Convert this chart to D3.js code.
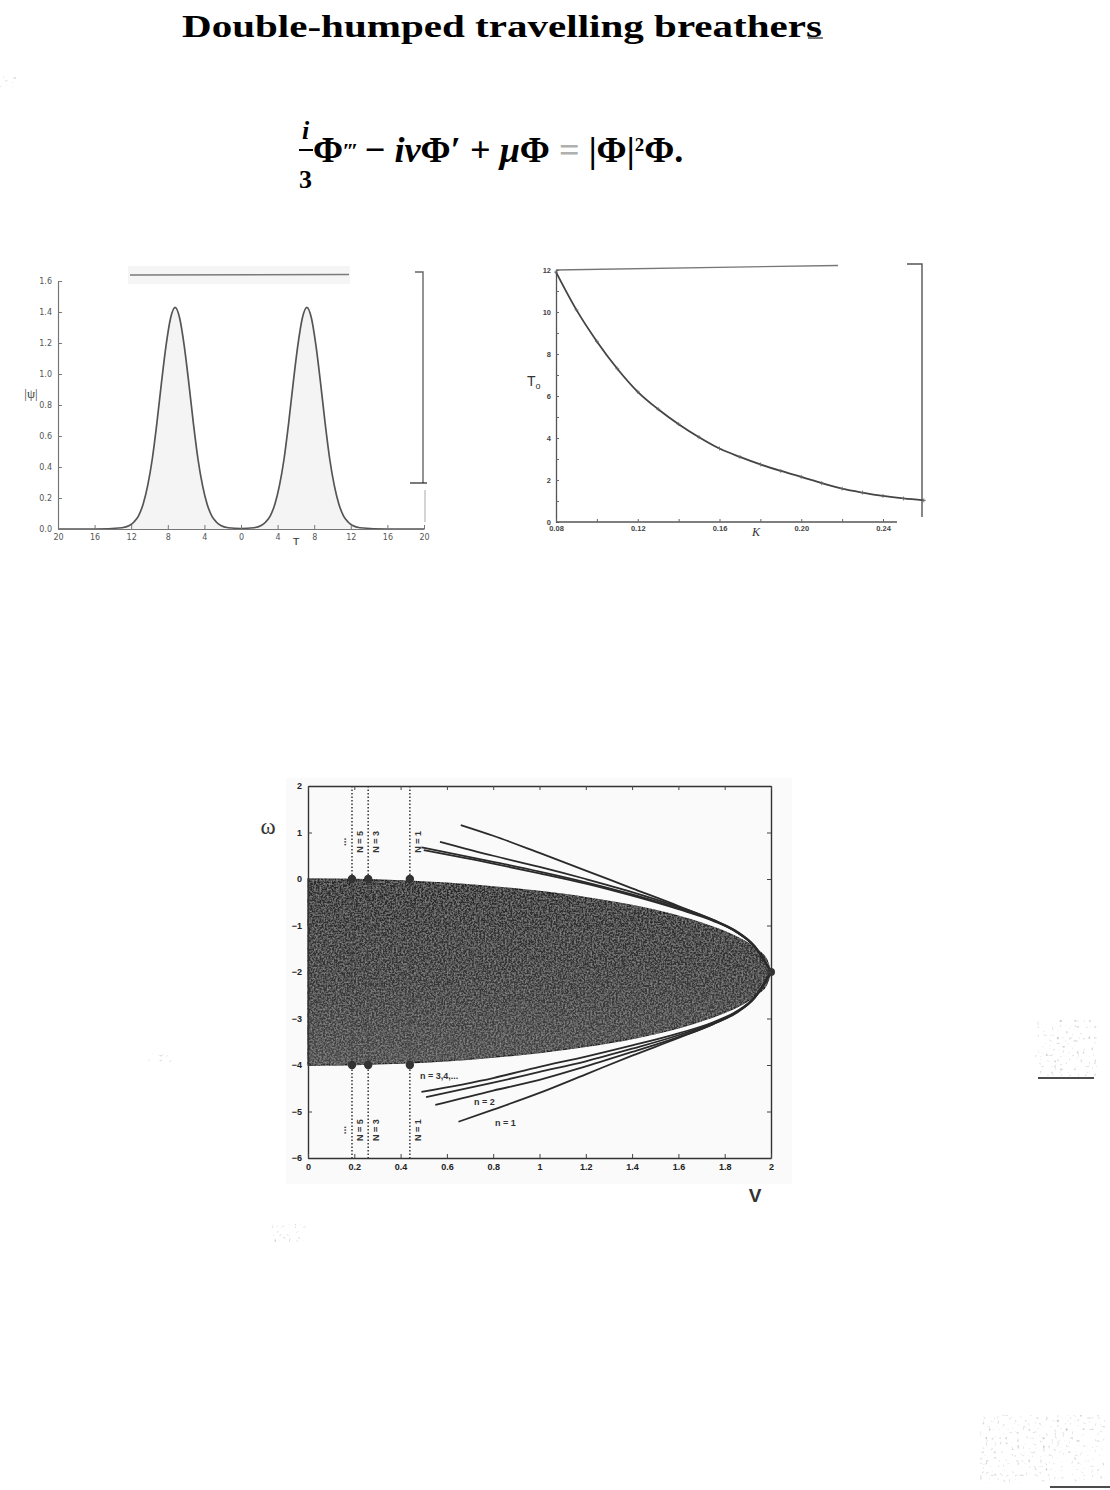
<!DOCTYPE html>
<meta charset="utf-8">
<style>
  body { margin: 0; background: #fff; }
  svg { display: block; }
</style>
<svg width="1110" height="1490" font-family="Liberation Sans, Arial, sans-serif"></svg>
<script src="https://d3js.org/d3.v7.min.js"></script>
<script>

// left panel: |psi| against T (two humps)
var tValues = [-20,-16,-13,-12.2,-11.7,-11.2,-10.7,-10.2,-9.7,-9.2,-8.7,-8.2,-7.7,-7.2,-6.7,-6.2,-5.7,-5.2,-4.7,-4.2,-3.7,-3.2,-2.7,-2.2,-1.4,0,
               1.4,2.2,2.7,3.2,3.7,4.2,4.7,5.2,5.7,6.2,6.7,7.2,7.7,8.2,8.7,9.2,9.7,10.2,10.7,11.2,11.7,12.2,13,16,20];
var psiValues = [0,0,0.008,0.022,0.045,0.085,0.16,0.28,0.45,0.68,0.94,1.18,1.36,1.43,1.36,1.18,0.94,0.68,0.45,0.28,0.16,0.085,0.045,0.022,0.008,0.003,
                 0.008,0.022,0.045,0.085,0.16,0.28,0.45,0.68,0.94,1.18,1.36,1.43,1.36,1.18,0.94,0.68,0.45,0.28,0.16,0.085,0.045,0.022,0.008,0,0];
var tTicks = [-20,-16,-12,-8,-4,0,4,8,12,16,20];
var tTickLabels = ["20","16","12","8","4","0","4","8","12","16","20"];
var psiTicks = [0,0.2,0.4,0.6,0.8,1.0,1.2,1.4,1.6];

// right panel: T0 against kappa
var kappaValues = [0.08,0.09,0.10,0.11,0.12,0.13,0.14,0.15,0.16,0.17,0.18,0.19,0.20,0.21,0.22,0.23,0.24,0.25,0.26];
var t0Values = [11.9,10.1,8.6,7.3,6.2,5.37,4.66,4.04,3.5,3.1,2.74,2.43,2.15,1.85,1.59,1.4,1.24,1.12,1.03];
var kappaTicks = [0.08,0.10,0.12,0.14,0.16,0.18,0.20,0.22,0.24];
var kappaTickLabels = ["0.08","","0.12","","0.16","","0.20","","0.24"];
var t0Ticks = [0,1,2,3,4,5,6,7,8,9,10,11,12];

// bottom panel: continuous band and breather branches in the (V, omega) plane
var vBand = [0,0.2,0.4,0.6,0.8,1.0,1.2,1.4,1.6,1.7,1.8,1.9,1.95,1.98,2.0];
var bandTop = [0,-0.01,-0.04,-0.09,-0.17,-0.27,-0.4,-0.57,-0.8,-0.95,-1.13,-1.38,-1.56,-1.72,-2];
var bandBottom = [-4,-3.99,-3.96,-3.91,-3.83,-3.73,-3.6,-3.43,-3.2,-3.05,-2.87,-2.62,-2.44,-2.28,-2];

var branchV = {
  up1: [0.66,0.8,1.0,1.2,1.4,1.6,1.75,1.85,1.93,2.0],
  up2: [0.57,0.8,1.0,1.2,1.4,1.6,1.75,1.85,1.93,2.0],
  up3: [0.5,0.8,1.0,1.2,1.4,1.6,1.75,1.85,1.93,2.0],
  up4: [0.49,0.8,1.0,1.2,1.4,1.6,1.75,1.85,1.93,2.0],
  lo1: [0.65,0.8,1.0,1.2,1.4,1.6,1.75,1.85,1.93,2.0],
  lo2: [0.55,0.8,1.0,1.2,1.4,1.6,1.75,1.85,1.93,2.0],
  lo3: [0.51,0.8,1.0,1.2,1.4,1.6,1.75,1.85,1.93,2.0],
  lo4: [0.49,0.8,1.0,1.2,1.4,1.6,1.75,1.85,1.93,2.0]
};
var up1 = [1.16,0.93,0.56,0.18,-0.2,-0.58,-0.88,-1.12,-1.45,-2];
var up2 = [0.8,0.5,0.26,0.0,-0.28,-0.6,-0.88,-1.13,-1.45,-2];
var up3 = [0.62,0.33,0.12,-0.1,-0.36,-0.65,-0.9,-1.14,-1.46,-2];
var up4 = [0.68,0.37,0.16,-0.07,-0.33,-0.63,-0.89,-1.14,-1.46,-2];
var lo1 = [-5.22,-4.96,-4.6,-4.2,-3.8,-3.42,-3.12,-2.88,-2.55,-2];
var lo2 = [-4.86,-4.55,-4.32,-4.03,-3.72,-3.4,-3.12,-2.87,-2.55,-2];
var lo3 = [-4.69,-4.38,-4.15,-3.92,-3.65,-3.36,-3.1,-2.86,-2.54,-2];
var lo4 = [-4.58,-4.28,-4.04,-3.82,-3.58,-3.32,-3.08,-2.85,-2.54,-2];

var nLines = [0.19,0.26,0.44];
var nLabels = ["N = 5","N = 3","N = 1"];
var vTicks = [0,0.2,0.4,0.6,0.8,1,1.2,1.4,1.6,1.8,2];
var omegaTicks = [-6,-5,-4,-3,-2,-1,0,1,2];

var svg = d3.select("svg");
var defs = svg.append("defs");

var grain = defs.append("filter").attr("id", "grain");
grain.append("feTurbulence").attr("type", "fractalNoise").attr("baseFrequency", 0.55)
    .attr("numOctaves", 2).attr("seed", 4).attr("result", "noise");
grain.append("feColorMatrix").attr("in", "noise").attr("type", "matrix")
    .attr("values", "0 0 0 0 0.5  0 0 0 0 0.5  0 0 0 0 0.5  0 0 0 1.0 -0.38").attr("result", "light");
grain.append("feComposite").attr("in", "light").attr("in2", "SourceGraphic").attr("operator", "in").attr("result", "specks");
var gm = grain.append("feMerge");
gm.append("feMergeNode").attr("in", "SourceGraphic");
gm.append("feMergeNode").attr("in", "specks");

var dots = defs.append("filter").attr("id", "dots");
dots.append("feTurbulence").attr("type", "fractalNoise").attr("baseFrequency", 0.35)
    .attr("numOctaves", 1).attr("seed", 9).attr("result", "t");
dots.append("feColorMatrix").attr("in", "t").attr("type", "matrix")
    .attr("values", "0 0 0 0 0.5  0 0 0 0 0.5  0 0 0 0 0.5  0 0 0 4 -2.5").attr("result", "c");
dots.append("feComposite").attr("in", "c").attr("in2", "SourceAlpha").attr("operator", "in");

var grad = defs.append("linearGradient").attr("id", "bandFill").attr("x1", 0).attr("y1", 0).attr("x2", 0).attr("y2", 1);
grad.append("stop").attr("offset", "0%").attr("stop-color", "#2a2a2a");
grad.append("stop").attr("offset", "55%").attr("stop-color", "#353535");
grad.append("stop").attr("offset", "100%").attr("stop-color", "#464646");

defs.append("clipPath").attr("id", "clipLeft")
  .append("rect").attr("x", 0).attr("y", 250).attr("width", 445).attr("height", 295);

// fit a text element to a given width by changing its font size
function fitWidth(sel, width) {
  var fs = +sel.attr("font-size");
  var len = sel.node().getComputedTextLength();
  sel.attr("font-size", fs * width / len);
}

// title and equation
svg.append("text")
    .attr("x", 182).attr("y", 37)
    .attr("font-family", "Liberation Serif, serif")
    .attr("font-weight", "bold").attr("font-size", 32)
    .attr("textLength", 640).attr("lengthAdjust", "spacingAndGlyphs")
    .text("Double-humped travelling breathers");
svg.append("line").attr("x1", 808).attr("x2", 823).attr("y1", 38).attr("y2", 38).attr("stroke", "#222").attr("stroke-width", 1.2);

var eq = svg.append("g").attr("font-family", "Liberation Serif, serif").attr("font-weight", "bold");
eq.append("text").attr("x", 302).attr("y", 139).attr("font-size", 26).attr("font-style", "italic").text("i");
eq.append("line").attr("x1", 299).attr("x2", 313).attr("y1", 150).attr("y2", 150).attr("stroke", "#000").attr("stroke-width", 2);
eq.append("text").attr("x", 299).attr("y", 188).attr("font-size", 26).text("3");
var main = eq.append("text").attr("x", 313).attr("y", 162).attr("font-size", 28);
main.append("tspan").text("Φ");
main.append("tspan").attr("dy", -4).attr("font-size", 22).attr("letter-spacing", -2).text("′′′");
main.append("tspan").attr("dy", 4).text(" − ");
main.append("tspan").attr("font-style", "italic").text("iν");
main.append("tspan").text("Φ′ + ");
main.append("tspan").attr("font-style", "italic").text("μ");
main.append("tspan").text("Φ ");
main.append("tspan").attr("fill", "#b0b0b0").text("=");
main.append("tspan").text(" |Φ|");
main.append("tspan").attr("dy", -11).attr("font-size", 19).text("2");
main.append("tspan").attr("dy", 11).text("Φ.");
fitWidth(main, 377);

// ---------- left panel ----------
var xL = d3.scaleLinear().domain([-20, 20]).range([58, 424]);
var yL = d3.scaleLinear().domain([0, 1.6]).range([529, 281]);
var gL = svg.append("g").attr("clip-path", "url(#clipLeft)");
var humps = tValues.map(function(t, i) { return [t, psiValues[i]]; });

gL.append("rect").attr("x", 128).attr("y", 266).attr("width", 222).attr("height", 18).attr("fill", "#f5f5f5");
gL.append("line").attr("x1", 130).attr("x2", 349).attr("y1", 275).attr("y2", 274.5).attr("stroke", "#7a7a7a").attr("stroke-width", 1.6);

gL.append("path").datum(humps)
    .attr("fill", "#f4f4f4")
    .attr("d", d3.area().x(function(d) { return xL(d[0]); }).y0(yL(0)).y1(function(d) { return yL(d[1]); }).curve(d3.curveMonotoneX));
gL.append("path").datum(humps)
    .attr("fill", "none").attr("stroke", "#555").attr("stroke-width", 1.7)
    .attr("d", d3.line().x(function(d) { return xL(d[0]); }).y(function(d) { return yL(d[1]); }).curve(d3.curveMonotoneX));

var axL = gL.append("g").attr("transform", "translate(58,0)")
    .call(d3.axisLeft(yL).tickValues(psiTicks).tickFormat(d3.format(".1f")).tickSize(-4).tickSizeOuter(0).tickPadding(6));
var axB = gL.append("g").attr("transform", "translate(0,529)")
    .call(d3.axisBottom(xL).tickValues(tTicks).tickFormat(function(d, i) { return tTickLabels[i]; }).tickSize(-4).tickSizeOuter(0).tickPadding(5));
[axL, axB].forEach(function(a) {
  a.select(".domain").attr("stroke", "#777").attr("stroke-width", 1.2);
  a.selectAll(".tick line").attr("stroke", "#777");
  a.selectAll("text").attr("fill", "#555").attr("font-size", 8).attr("font-family", "DejaVu Sans, sans-serif");
});

gL.append("path").attr("d", "M415,272H423V483").attr("fill", "none").attr("stroke", "#666").attr("stroke-width", 1.4);
gL.append("line").attr("x1", 410).attr("x2", 427).attr("y1", 483).attr("y2", 483).attr("stroke", "#222").attr("stroke-width", 1.2);
gL.append("line").attr("x1", 425).attr("x2", 425).attr("y1", 490).attr("y2", 522).attr("stroke", "#aaa").attr("stroke-width", 1);

gL.append("text").attr("x", 31).attr("y", 398).attr("text-anchor", "middle")
    .attr("font-family", "Liberation Serif, serif").attr("font-size", 13).attr("fill", "#444").text("|ψ|");
gL.append("text").attr("x", 296).attr("y", 546).attr("text-anchor", "middle")
    .attr("font-size", 11).attr("fill", "#333").text("T");

// ---------- right panel ----------
var xR = d3.scaleLinear().domain([0.08, 0.24]).range([556, 883]);
var yR = d3.scaleLinear().domain([0, 12]).range([522, 270]);
var pts = kappaValues.map(function(k, i) { return [k, t0Values[i]]; });

svg.append("line").attr("x1", 556).attr("x2", 838).attr("y1", 270).attr("y2", 265.5).attr("stroke", "#777").attr("stroke-width", 1.3);
svg.append("path").attr("d", "M907,264H922V517").attr("fill", "none").attr("stroke", "#555").attr("stroke-width", 1.4);

var axR = svg.append("g").attr("transform", "translate(556,0)")
    .call(d3.axisLeft(yR).tickValues(t0Ticks).tickFormat(function(d) { return d % 2 === 0 ? d : ""; }).tickSize(-3).tickSizeOuter(0).tickPadding(5));
var axRB = svg.append("g").attr("transform", "translate(0,522)")
    .call(d3.axisBottom(xR).tickValues(kappaTicks).tickFormat(function(d, i) { return kappaTickLabels[i]; }).tickSize(-3).tickSizeOuter(0).tickPadding(4));
axRB.select(".domain").attr("d", "M556,0H897");
[axR, axRB].forEach(function(a) {
  a.select(".domain").attr("stroke", "#555").attr("stroke-width", 1.3);
  a.selectAll(".tick line").attr("stroke", "#666");
  a.selectAll("text").attr("fill", "#444").attr("font-size", 7.5).attr("font-weight", "bold");
});

svg.append("path").datum(pts)
    .attr("fill", "none").attr("stroke", "#444").attr("stroke-width", 1.8)
    .attr("d", d3.line().x(function(d) { return xR(d[0]); }).y(function(d) { return yR(d[1]); }).curve(d3.curveMonotoneX));
svg.append("g").selectAll("path").data(pts).enter().append("path")
    .attr("transform", function(d) { return "translate(" + xR(d[0]) + "," + yR(d[1]) + ")"; })
    .attr("d", "M-2,0H2M0,-2V2").attr("stroke", "#666").attr("stroke-width", 0.8);

var t0Label = svg.append("text").attr("x", 527).attr("y", 386).attr("font-size", 14).attr("fill", "#333");
t0Label.append("tspan").text("T");
t0Label.append("tspan").attr("dy", 3).attr("font-size", 9).text("o");
svg.append("text").attr("x", 756).attr("y", 536).attr("text-anchor", "middle")
    .attr("font-family", "Liberation Serif, serif").attr("font-style", "italic").attr("font-size", 12).attr("fill", "#333").text("K");

// ---------- bottom panel ----------
var xB = d3.scaleLinear().domain([0, 2]).range([308, 771]);
var yB = d3.scaleLinear().domain([-6, 2]).range([1158, 786]);

svg.append("rect").attr("x", 286).attr("y", 778).attr("width", 506).attr("height", 406).attr("fill", "#fafafa");

var band = vBand.map(function(v, i) { return {v: v, top: bandTop[i], bottom: bandBottom[i]}; });
svg.append("path").datum(band)
    .attr("fill", "url(#bandFill)").attr("stroke", "#1e1e1e").attr("stroke-width", 1.4)
    .attr("filter", "url(#grain)")
    .attr("d", d3.area().x(function(d) { return xB(d.v); }).y0(function(d) { return yB(d.bottom); }).y1(function(d) { return yB(d.top); }).curve(d3.curveMonotoneX));

var branchLine = d3.line().x(function(d) { return xB(d[0]); }).y(function(d) { return yB(d[1]); }).curve(d3.curveMonotoneX);
var branches = {up1: up1, up2: up2, up3: up3, up4: up4, lo1: lo1, lo2: lo2, lo3: lo3, lo4: lo4};
Object.keys(branches).forEach(function(k) {
  var data = branchV[k].map(function(v, i) { return [v, branches[k][i]]; });
  svg.append("path").datum(data)
      .attr("fill", "none").attr("stroke", "#2a2a2a").attr("stroke-width", 1.8)
      .attr("d", branchLine);
});

nLines.forEach(function(v, i) {
  svg.append("line").attr("x1", xB(v)).attr("x2", xB(v)).attr("y1", yB(2)).attr("y2", yB(-6))
      .attr("stroke", "#444").attr("stroke-width", 1.6).attr("stroke-dasharray", "1.5,2");
  [0, -4].forEach(function(w) {
    svg.append("circle").attr("cx", xB(v)).attr("cy", yB(w)).attr("r", 4.2).attr("fill", "#333");
  });
  [0.8, -5.4].forEach(function(w) {
    svg.append("text")
        .attr("transform", "translate(" + (xB(v) + 11) + "," + yB(w) + ") rotate(-90)")
        .attr("text-anchor", "middle").attr("font-size", 9).attr("font-weight", "bold").attr("fill", "#333")
        .text(nLabels[i]);
  });
});
[0.8, -5.4].forEach(function(w) {
  svg.append("text")
      .attr("transform", "translate(" + (xB(0.15) + 3) + "," + yB(w) + ") rotate(-90)")
      .attr("text-anchor", "middle").attr("font-size", 10).attr("font-weight", "bold").attr("fill", "#444")
      .text("...");
});
svg.append("circle").attr("cx", xB(2)).attr("cy", yB(-2)).attr("r", 4).attr("fill", "#333");

var frame = [
  {ax: d3.axisLeft(yB).tickValues(omegaTicks).tickFormat(d3.format("d")), t: "translate(308,0)"},
  {ax: d3.axisRight(yB).tickValues(omegaTicks).tickFormat(""), t: "translate(771,0)"},
  {ax: d3.axisBottom(xB).tickValues(vTicks).tickFormat(d3.format("~g")), t: "translate(0,1158)"},
  {ax: d3.axisTop(xB).tickValues(vTicks).tickFormat(""), t: "translate(0,786)"}
];
frame.forEach(function(f) {
  var a = svg.append("g").attr("transform", f.t).call(f.ax.tickSize(-4).tickSizeOuter(0).tickPadding(6));
  a.select(".domain").attr("stroke", "#333").attr("stroke-width", 1.4);
  a.selectAll(".tick line").attr("stroke", "#444");
  a.selectAll("text").attr("fill", "#222").attr("font-size", 9).attr("font-weight", "bold");
});

svg.append("text").attr("x", 420).attr("y", 1079).attr("font-size", 9).attr("font-weight", "bold").attr("fill", "#333").text("n = 3,4,...");
svg.append("text").attr("x", 474).attr("y", 1105).attr("font-size", 9).attr("font-weight", "bold").attr("fill", "#333").text("n = 2");
svg.append("text").attr("x", 495).attr("y", 1126).attr("font-size", 9).attr("font-weight", "bold").attr("fill", "#333").text("n = 1");

svg.append("text").attr("x", 268).attr("y", 834).attr("text-anchor", "middle")
    .attr("font-family", "Liberation Serif, serif").attr("font-size", 23).attr("fill", "#333").text("ω");
svg.append("text").attr("x", 755).attr("y", 1202).attr("text-anchor", "middle")
    .attr("font-size", 19).attr("font-weight", "bold").attr("fill", "#333").text("V");

// scan specks around the page
[[1035, 1020, 62, 56], [980, 1415, 125, 68], [270, 1224, 36, 18], [148, 1053, 30, 9], [0, 76, 16, 11]].forEach(function(r) {
  svg.append("rect").attr("x", r[0]).attr("y", r[1]).attr("width", r[2]).attr("height", r[3])
      .attr("fill", "#000").attr("filter", "url(#dots)");
});
svg.append("line").attr("x1", 1038).attr("x2", 1094).attr("y1", 1078).attr("y2", 1078).attr("stroke", "#111").attr("stroke-width", 1.4);
svg.append("line").attr("x1", 1050).attr("x2", 1110).attr("y1", 1487).attr("y2", 1487).attr("stroke", "#111").attr("stroke-width", 1.4);

</script>
